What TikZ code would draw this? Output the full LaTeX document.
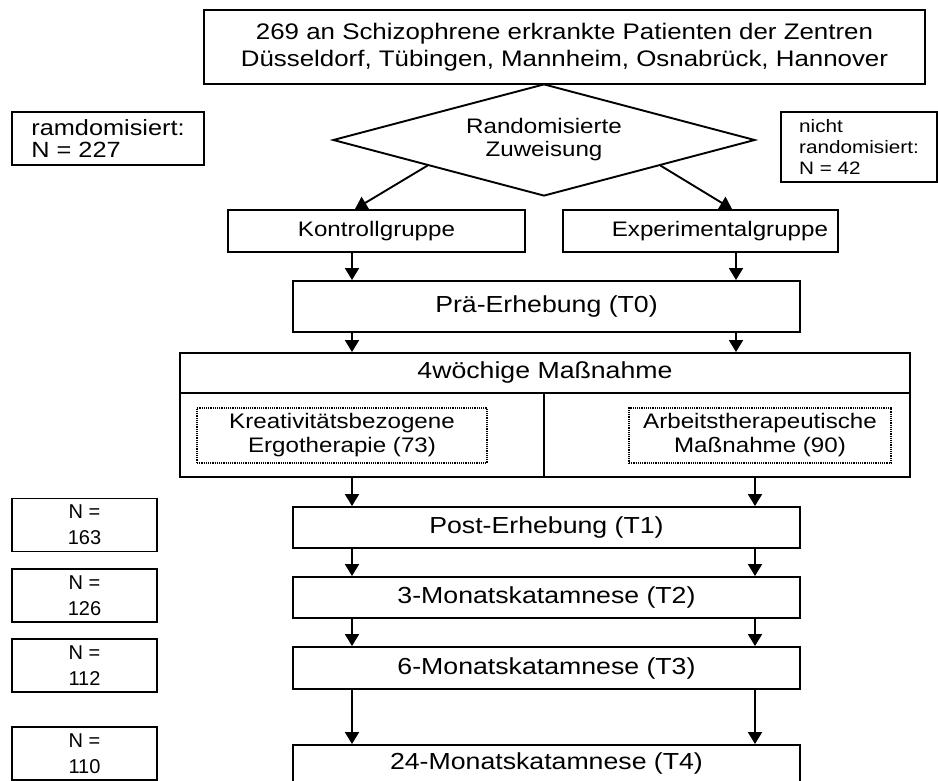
\documentclass[tikz,border=0pt]{standalone}
\usepackage{fontspec}
\setmainfont{Liberation Sans}[FakeStretch=1.15]
\newfontfamily\plainsans{Liberation Sans}
\usetikzlibrary{arrows.meta,shapes.geometric,calc}
\begin{document}
\begin{tikzpicture}[x=1pt,y=-1pt,
  line/.style={line width=1.9pt},
  box/.style={draw,line width=1.9pt,rectangle,inner sep=0pt,align=center,
    font=\fontsize{21}{26}\selectfont},
  bigbox/.style={box,font=\fontsize{23.2}{28}\selectfont},
  dotbox/.style={draw,densely dotted,line width=1.2pt,rectangle,inner sep=0pt,align=center,
    font=\fontsize{21}{24}\selectfont},
  nbox/.style={draw,line width=1.9pt,rectangle,inner sep=0pt,align=center,
    minimum width=145pt,minimum height=53pt,font=\plainsans\fontsize{20}{26}\selectfont},
  arr/.style={line width=1.9pt,-{Triangle[width=14pt,length=12pt]}}]
\useasboundingbox (0,0) rectangle (938,781);

% column positions of the vertical connectors
\coordinate (cL) at (352,0);
\coordinate (cR) at (736,0);
\coordinate (cR2) at (755,0);

% intake and randomisation
\node[box,minimum width=721pt,minimum height=74pt,font=\fontsize{22.5}{27}\selectfont] (all) at (564.5,47)
  {269 an Schizophrene erkrankte Patienten der Zentren\\Düsseldorf, Tübingen, Mannheim, Osnabrück, Hannover};
\node[box,align=left,minimum width=192pt,minimum height=53pt,font=\fontsize{22}{22}\selectfont] (rand) at (108,138.5)
  {ramdomisiert:\\N = 227};
\node[box,align=left,minimum width=156pt,minimum height=70pt,font=\fontsize{18}{21}\selectfont] (nrand) at (859,147)
  {nicht\\randomisiert:\\N = 42};
\node[diamond,draw,line width=1.9pt,aspect=3.77,minimum width=422pt,minimum height=112pt,inner sep=0pt,
  align=center,font=\fontsize{21}{23}\selectfont] (dia) at (544,140)
  {Randomisierte\\Zuweisung};

% groups
\node[box,minimum width=297pt,minimum height=42pt] (kon) at (376.5,231) {Kontrollgruppe};
\node[box,minimum width=275pt,minimum height=42pt,text width=255pt,align=right] (exp) at (700.5,231) {Experimentalgruppe};
\node[bigbox,minimum width=507pt,minimum height=51pt] (pre) at (546.5,306.5) {Prä-Erhebung (T0)};

% treatment block
\node[box,minimum width=730pt,minimum height=124pt] (mass) at (545,415) {};
\coordinate (hl) at (544,393);
\node[font=\fontsize{23.2}{28}\selectfont] (masst) at (545,373) {4wöchige Maßnahme};
\draw[line] (mass.west |- hl) -- (mass.east |- hl);
\draw[line] (hl) -- (hl |- mass.south);
\node[dotbox,minimum width=290pt,minimum height=55pt] (kre) at (342,435.5)
  {Kreativitätsbezogene\\Ergotherapie (73)};
\node[dotbox,minimum width=262pt,minimum height=55pt] (arb) at (760,435.5)
  {Arbeitstherapeutische\\Maßnahme (90)};

% measurement points
\node[bigbox,minimum width=507pt,minimum height=41pt] (t1) at (546.5,527.5) {Post-Erhebung (T1)};
\node[bigbox,minimum width=507pt,minimum height=41pt] (t2) at (546.5,597.5) {3-Monatskatamnese (T2)};
\node[bigbox,minimum width=507pt,minimum height=42pt] (t3) at (546.5,668) {6-Monatskatamnese (T3)};
\node[bigbox,minimum width=507pt,minimum height=40pt] (t4) at (546.5,765) {};
\node[font=\fontsize{23.2}{28}\selectfont] (t4t) at (546.5,763) {24-Monatskatamnese (T4)};

% sample sizes
\node[nbox] (n1) at (84.5,525) {N =\\163};
\node[nbox] (n2) at (84.5,595.5) {N =\\126};
\node[nbox] (n3) at (84.5,665.5) {N =\\112};
\node[nbox] (n4) at (84.5,753.5) {N =\\110};

% connectors
\draw[arr] ($(dia.west)!0.45!(dia.south)$) -- ([xshift=-21.5pt]kon.north);
\draw[arr] ($(dia.south)!0.55!(dia.east)$) -- ([xshift=31.5pt]exp.north);
\draw[arr] (kon.south -| cL) -- (pre.north -| cL);
\draw[arr] (exp.south -| cR) -- (pre.north -| cR);
\draw[arr] (pre.south -| cL) -- (mass.north -| cL);
\draw[arr] (pre.south -| cR) -- (mass.north -| cR);
\draw[arr] (mass.south -| cL) -- (t1.north -| cL);
\draw[arr] (mass.south -| cR2) -- (t1.north -| cR2);
\draw[arr] (t1.south -| cL) -- (t2.north -| cL);
\draw[arr] (t1.south -| cR2) -- (t2.north -| cR2);
\draw[arr] (t2.south -| cL) -- (t3.north -| cL);
\draw[arr] (t2.south -| cR2) -- (t3.north -| cR2);
\draw[arr] (t3.south -| cL) -- (t4.north -| cL);
\draw[arr] (t3.south -| cR2) -- (t4.north -| cR2);
\end{tikzpicture}
\end{document}
